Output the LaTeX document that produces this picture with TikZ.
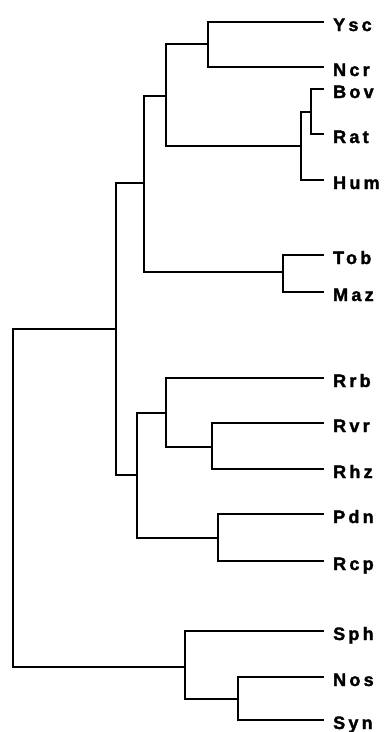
\documentclass[tikz,border=0pt]{standalone}
\usepackage{fontspec}
\usepackage{tikz}
\usetikzlibrary{positioning,calc}
\newfontfamily\taxonfont[LetterSpace=18, FakeBold=1.8]{Liberation Sans Bold}

\tikzset{
    taxon/.style={anchor=west, inner xsep=10pt, inner ysep=0pt,
        text height=18pt, text depth=0pt,
        font=\taxonfont\fontsize{18}{18}\selectfont},
    branch/.style={line width=1.7pt, line cap=rect}
}

\begin{document}
\begin{tikzpicture}[x=1pt, y=-1pt]
    \useasboundingbox (0,0) rectangle (384,732);

    % Leaves (labels)
    \node[taxon] (ysc) at (323,22) {Ysc};
    \node[taxon] (ncr) at (323,67) {Ncr};
    \node[taxon] (bov) at (323,89) {Bov};
    \node[taxon] (rat) at (323,134) {Rat};
    \node[taxon] (hum) at (323,180) {Hum};
    \node[taxon] (tob) at (323,255) {Tob};
    \node[taxon] (maz) at (323,292) {Maz};
    \node[taxon] (rrb) at (323,378) {Rrb};
    \node[taxon] (rvr) at (323,423) {Rvr};
    \node[taxon] (rhz) at (323,469) {Rhz};
    \node[taxon] (pdn) at (323,514) {Pdn};
    \node[taxon] (rcp) at (323,561) {Rcp};
    \node[taxon] (sph) at (323,631) {Sph};
    \node[taxon] (nos) at (323,677) {Nos};
    \node[taxon] (syn) at (323,720) {Syn};

    % Internal nodes
    \coordinate (root) at (13,498);
    \coordinate (euk) at (116,329);
    \coordinate (ani) at (144,183);
    \coordinate (fun) at (166,96);
    \coordinate (yn) at (208,44);
    \coordinate (mam) at (301,146);
    \coordinate (br) at (311,112);
    \coordinate (pla) at (283,272);
    \coordinate (rhd) at (137,475);
    \coordinate (rr) at (166,413);
    \coordinate (rv) at (212,447);
    \coordinate (pr) at (218,538);
    \coordinate (cya) at (185,667);
    \coordinate (ns) at (238,699);

    % Upper clade
    \draw[branch] (root) |- (euk);
    \draw[branch] (euk) |- (ani);
    \draw[branch] (euk) |- (rhd);
    \draw[branch] (ani) |- (fun);
    \draw[branch] (ani) |- (pla);
    \draw[branch] (fun) |- (yn);
    \draw[branch] (fun) |- (mam);
    \draw[branch] (yn) |- (ysc.west);
    \draw[branch] (yn) |- (ncr.west);
    \draw[branch] (mam) |- (br);
    \draw[branch] (mam) |- (hum.west);
    \draw[branch] (br) |- (bov.west);
    \draw[branch] (br) |- (rat.west);
    \draw[branch] (pla) |- (tob.west);
    \draw[branch] (pla) |- (maz.west);

    % Rhodophyte clade
    \draw[branch] (rhd) |- (rr);
    \draw[branch] (rhd) |- (pr);
    \draw[branch] (rr) |- (rrb.west);
    \draw[branch] (rr) |- (rv);
    \draw[branch] (rv) |- (rvr.west);
    \draw[branch] (rv) |- (rhz.west);
    \draw[branch] (pr) |- (pdn.west);
    \draw[branch] (pr) |- (rcp.west);

    % Lower clade
    \draw[branch] (root) |- (cya);
    \draw[branch] (cya) |- (sph.west);
    \draw[branch] (cya) |- (ns);
    \draw[branch] (ns) |- (nos.west);
    \draw[branch] (ns) |- (syn.west);
\end{tikzpicture}
\end{document}
